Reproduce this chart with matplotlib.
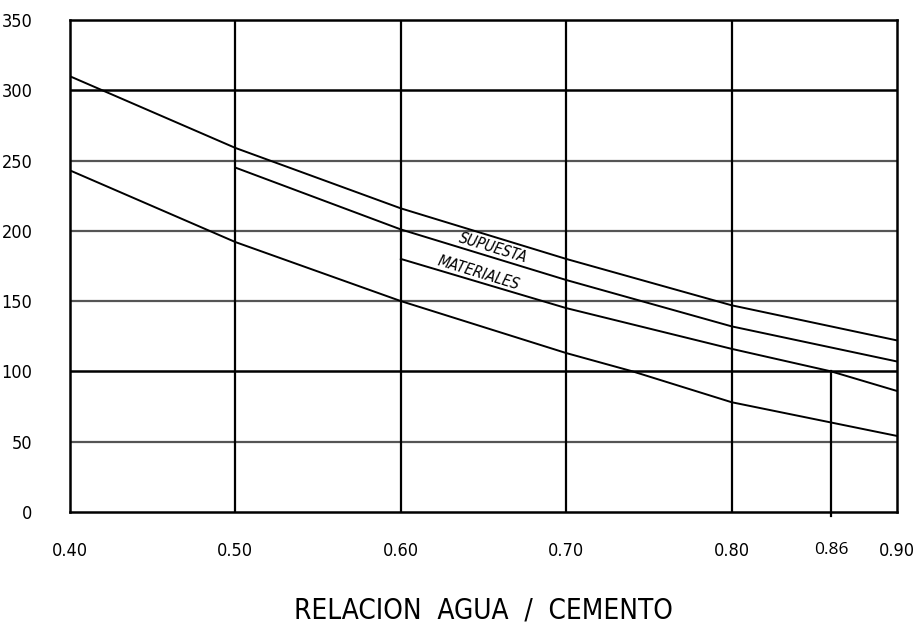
import matplotlib
matplotlib.use("Agg")
import matplotlib.pyplot as plt
from matplotlib import font_manager

# data
x_top = [0.40, 0.50, 0.60, 0.70, 0.80, 0.90]
y_top = [310, 259, 216, 180, 147, 122]

x_mid = [0.50, 0.60, 0.70, 0.80, 0.90]
y_mid = [245, 201, 165, 132, 107]

x_mat = [0.60, 0.70, 0.80, 0.86, 0.90]
y_mat = [180, 145, 116, 100, 86]

x_low = [0.40, 0.50, 0.60, 0.70, 0.74, 0.80, 0.90]
y_low = [243, 192, 150, 113, 100, 78, 54]

x_ticks = [0.40, 0.50, 0.60, 0.70, 0.80, 0.86, 0.90]
x_labels = ["0.40", "0.50", "0.60", "0.70", "0.80", "0.86", "0.90"]
y_ticks = [0, 50, 100, 150, 200, 250, 300, 350]

marker_x = 0.86
marker_y = 100

names = {f.name for f in font_manager.fontManager.ttflist}
narrow = "Liberation Sans Narrow" if "Liberation Sans Narrow" in names else "DejaVu Sans"

fig = plt.figure(figsize=(9.21, 6.28), dpi=100)
ax = fig.add_axes([0.076, 0.185, 0.898, 0.783])

# grid
for yv in [50, 150, 200, 250]:
    ax.axhline(yv, color="#555555", lw=1.6, zorder=1)
for yv in [100, 300]:
    ax.axhline(yv, color="black", lw=1.8, zorder=1)
for xv in [0.5, 0.6, 0.7, 0.8]:
    ax.axvline(xv, color="black", lw=1.6, zorder=1)

ax.plot([marker_x, marker_x], [-3, marker_y], color="black", lw=1.6, zorder=2,
        clip_on=False)

for xs, ys in [(x_top, y_top), (x_mid, y_mid), (x_mat, y_mat), (x_low, y_low)]:
    ax.plot(xs, ys, color="black", lw=1.4, zorder=3)

ax.text(0.656, 188, "SUPUESTA", rotation=-17, ha="center", va="center",
        fontsize=11, style="italic", family=narrow, stretch="condensed")
ax.text(0.647, 170, "MATERIALES", rotation=-17, ha="center", va="center",
        fontsize=11, style="italic", family=narrow, stretch="condensed")

ax.set_xlim(0.40, 0.90)
ax.set_ylim(0, 350)
ax.set_xticks(x_ticks)
ax.set_xticklabels(x_labels, fontsize=13, family=narrow, stretch="condensed")
ax.set_yticks(y_ticks)
ax.set_yticklabels([str(v) for v in y_ticks], fontsize=13, family=narrow,
                   stretch="condensed")
ax.tick_params(length=0)
ax.tick_params(axis="x", pad=22)
ax.tick_params(axis="y", pad=27)
lbl86 = ax.get_xticklabels()[5]
lbl86.set_family("Open Sans")
lbl86.set_stretch("normal")
lbl86.set_fontsize(12.5)

for s in ax.spines.values():
    s.set_linewidth(1.8)
    s.set_color("black")

ax.set_xlabel("RELACION  AGUA  /  CEMENTO", fontsize=20, family=narrow,
              stretch="condensed")
ax.xaxis.set_label_coords(0.5, -0.172)

fig.savefig("out.png", dpi=100)
